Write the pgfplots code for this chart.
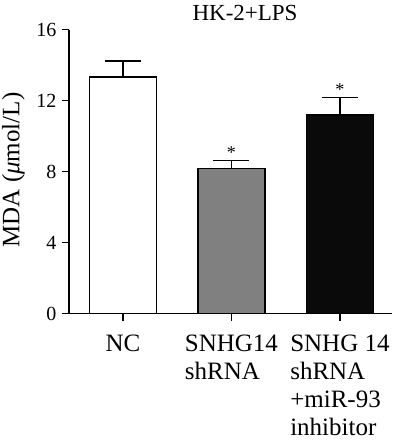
\documentclass[border=0pt]{standalone}
\usepackage{fontspec}
\setmainfont{Liberation Serif}
\usepackage{pgfplots}
\pgfplotsset{compat=1.18}
\definecolor{bargray}{RGB}{128,128,128}
\definecolor{barblack}{RGB}{10,10,10}
\begin{document}
\begin{tikzpicture}
\useasboundingbox (0,0) rectangle (397pt,448pt);
\begin{axis}[
  at={(69pt,134.5pt)}, anchor=south west,
  scale only axis, width=323pt, height=284pt,
  xmin=-0.498, xmax=2.48, ymin=0, ymax=16,
  axis x line=bottom, axis y line=left,
  axis line style={line width=1.6pt, -},
  every tick/.style={line width=1.6pt, black},
  tick align=outside,
  major tick length=7pt,
  ytick={0,4,8,12,16},
  xtick={0,1,2},
  xticklabels={NC, SNHG14\\shRNA, SNHG 14\\shRNA\\+miR-93\\inhibitor},
  /pgf/number format/assume math mode=true,
  yticklabel style={font=\fontsize{20}{24}\selectfont, xshift=-2pt},
  xticklabel style={font=\fontsize{25}{28}\selectfont, align=left, anchor=north, yshift=-11pt},
  ylabel={MDA (\textit{μ}mol/L)},
  ylabel style={at={(axis description cs:-0.172,0.505)}, anchor=center, rotate=0, font=\fontsize{25}{30}\selectfont},
  clip=false,
]
\addplot[ybar, bar width=67pt, fill=white, draw=black, line width=1.6pt,
  error bars/.cd, y dir=plus, y explicit,
  error bar style={line width=1.6pt, black},
  error mark options={rotate=90, mark size=18pt, line width=1.6pt, black}]
  coordinates {(0,13.34) +- (0,0.90)};
\addplot[ybar, bar width=67pt, fill=bargray, draw=black, line width=1.6pt,
  error bars/.cd, y dir=plus, y explicit,
  error bar style={line width=1.6pt, black},
  error mark options={rotate=90, mark size=18pt, line width=1.6pt, black}]
  coordinates {(1,8.18) +- (0,0.45)};
\addplot[ybar, bar width=67pt, fill=barblack, draw=black, line width=1.6pt,
  error bars/.cd, y dir=plus, y explicit,
  error bar style={line width=1.6pt, black},
  error mark options={rotate=90, mark size=18pt, line width=1.6pt, black}]
  coordinates {(2,11.18) +- (0,1.00)};
\node[anchor=south, font=\fontsize{18}{20}\selectfont, inner sep=0pt] at (axis cs:1,8.63) [yshift=2pt] {*};
\node[anchor=south, font=\fontsize{18}{20}\selectfont, inner sep=0pt] at (axis cs:2,12.18) [yshift=2pt] {*};
\node[anchor=base, font=\fontsize{23}{26}\selectfont, inner sep=0pt] at (rel axis cs:0.545,1) [yshift=9.5pt] {HK-2+LPS};
\end{axis}
\end{tikzpicture}
\end{document}
